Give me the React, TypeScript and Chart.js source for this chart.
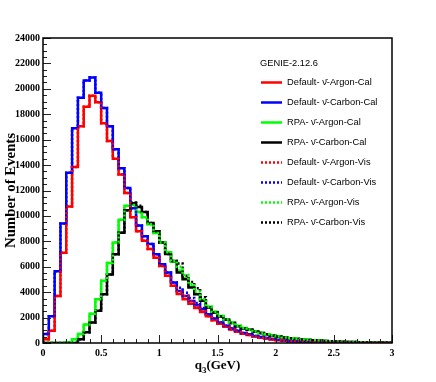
import React, { useEffect, useRef } from "react";
import { Chart, registerables } from "chart.js";

Chart.register(...registerables);

// Histogram: 60 bins of 0.05 GeV from 0 to 3 GeV
const binWidth = 0.05;
const xMin = 0;
const xMax = 3;
const yMax = 24000;
const yStep = 2000;
const xStep = 0.5;
const legendHeader = "GENIE-2.12.6";

const defaultArgonCal = [
  300, 970, 3700, 7100, 10750, 13850, 17050, 18600, 19450, 18950,
  17300, 15900, 14500, 13250, 11800, 9900, 8800, 8050, 7400, 6700,
  6050, 5300, 4500, 3850, 3450, 3080, 2750, 2430, 2100, 1800,
  1520, 1270, 1060, 880, 730, 620, 510, 420, 345, 280,
  225, 180, 140, 110, 85, 66, 51, 40, 31, 24,
  18, 14, 11, 8, 6, 5, 4, 3, 2, 2,
];

const defaultCarbonCal = [
  700, 2100, 5650, 9400, 13400, 16900, 19300, 20650, 20900, 19700,
  18500, 17050, 15250, 13750, 12200, 10600, 9250, 8400, 7800, 6980,
  6200, 5540, 4760, 4100, 3700, 3300, 2980, 2660, 2270, 1930,
  1620, 1360, 1150, 960, 790, 680, 560, 470, 390, 320,
  260, 205, 160, 125, 95, 75, 58, 45, 35, 27,
  21, 16, 12, 9, 7, 5, 4, 3, 2, 2,
];

const rpaArgonCal = [
  0, 0, 0, 0, 50, 300, 700, 1450, 2300, 3450,
  4900, 6300, 7900, 9700, 10800, 10850, 10300, 9900, 9350, 8650,
  7900, 7150, 6400, 5700, 5100, 4450, 3850, 3350, 2850, 2450,
  2120, 1850, 1600, 1360, 1180, 1050, 900, 790, 690, 590,
  510, 440, 380, 325, 285, 250, 218, 188, 160, 138,
  118, 100, 86, 73, 62, 52, 44, 37, 31, 26,
];

const rpaCarbonCal = [
  0, 0, 0, 0, 0, 0, 300, 840, 1620, 2530,
  3840, 5400, 6980, 8680, 10450, 11000, 10700, 10300, 9450, 8800,
  7900, 7000, 6450, 5540, 5020, 4370, 3840, 3320, 2800, 2400,
  2090, 1830, 1570, 1310, 1150, 1050, 890, 780, 680, 575,
  500, 430, 370, 315, 280, 245, 215, 185, 158, 135,
  115, 98, 84, 71, 60, 50, 42, 35, 30, 25,
];

const defaultArgonVis = [
  300, 970, 3700, 7100, 10750, 13850, 17050, 18600, 19450, 18950,
  17300, 15900, 14500, 13250, 11800, 9900, 8800, 8050, 7400, 6700,
  6050, 5300, 4500, 4050, 3700, 3300, 2900, 2500, 2100, 1800,
  1520, 1270, 1060, 880, 730, 620, 510, 420, 345, 280,
  225, 180, 140, 110, 85, 66, 51, 40, 31, 24,
  18, 14, 11, 8, 6, 5, 4, 3, 2, 2,
];

const defaultCarbonVis = [
  700, 2100, 5650, 9400, 13400, 16900, 19300, 20650, 20900, 19700,
  18500, 17050, 15250, 13750, 12200, 10600, 9250, 8400, 7800, 6980,
  6200, 5540, 4760, 4350, 3950, 3550, 3150, 2750, 2270, 1930,
  1620, 1360, 1150, 960, 790, 680, 560, 470, 390, 320,
  260, 205, 160, 125, 95, 75, 58, 45, 35, 27,
  21, 16, 12, 9, 7, 5, 4, 3, 2, 2,
];

const rpaArgonVis = [
  0, 0, 0, 0, 50, 300, 700, 1450, 2300, 3450,
  4900, 6300, 7900, 9700, 10800, 10850, 10300, 9900, 9350, 8650,
  7900, 7150, 6450, 6000, 5350, 4650, 4050, 3450, 2850, 2450,
  2120, 1850, 1600, 1360, 1180, 1050, 900, 790, 690, 590,
  510, 440, 380, 325, 285, 250, 218, 188, 160, 138,
  118, 100, 86, 73, 62, 52, 44, 37, 31, 26,
];

const rpaCarbonVis = [
  0, 0, 0, 0, 0, 0, 300, 840, 1620, 2530,
  3840, 5400, 6980, 8680, 10450, 11050, 10800, 10300, 9450, 8800,
  7900, 7000, 6450, 6250, 5300, 4800, 4300, 3600, 2800, 2400,
  2090, 1830, 1570, 1310, 1150, 1050, 890, 780, 680, 575,
  500, 430, 370, 315, 280, 245, 215, 185, 158, 135,
  115, 98, 84, 71, 60, 50, 42, 35, 30, 25,
];

const seriesLabels = [
  "Default- \u03BD\u0304-Argon-Cal",
  "Default- \u03BD\u0304-Carbon-Cal",
  "RPA- \u03BD\u0304-Argon-Cal",
  "RPA- \u03BD\u0304-Carbon-Cal",
  "Default- \u03BD\u0304-Argon-Vis",
  "Default- \u03BD\u0304-Carbon-Vis",
  "RPA- \u03BD\u0304-Argon-Vis",
  "RPA- \u03BD\u0304-Carbon-Vis",
];
const seriesValues = [
  defaultArgonCal, defaultCarbonCal, rpaArgonCal, rpaCarbonCal,
  defaultArgonVis, defaultCarbonVis, rpaArgonVis, rpaCarbonVis,
];
const seriesColors = ["#ff0000", "#0000ff", "#00ff00", "#000000", "#ff0000", "#0000ff", "#00ff00", "#000000"];
const seriesDotted = [false, false, false, false, true, true, true, true];

function toSteps(vals: number[]) {
  const pts = [{ x: 0, y: 0 }];
  vals.forEach((v, i) => pts.push({ x: Number((i * binWidth).toFixed(4)), y: v }));
  pts.push({ x: xMax, y: vals[vals.length - 1] });
  return pts;
}

const rootPlugin = {
  id: "rootStyle",
  afterDatasetsDraw(chart: any) {
    const { ctx, chartArea } = chart;
    const { left, right, top, bottom } = chartArea;
    const xs = chart.scales.x;
    const ys = chart.scales.y;
    ctx.save();
    ctx.strokeStyle = "#222";
    ctx.lineWidth = 1;
    ctx.beginPath();
    for (let v = 0; v <= yMax + 1; v += 500) {
      const y = Math.round(ys.getPixelForValue(v)) + 0.5;
      const len = v % yStep === 0 ? 8 : 4;
      ctx.moveTo(left, y);
      ctx.lineTo(left + len, y);
    }
    for (let k = 0; k <= 30; k++) {
      const v = k * 0.1;
      const x = Math.round(xs.getPixelForValue(v)) + 0.5;
      const len = k % 5 === 0 ? 8 : 4;
      ctx.moveTo(x, bottom);
      ctx.lineTo(x, bottom - len);
    }
    ctx.stroke();
    ctx.strokeStyle = "#000";
    ctx.lineWidth = 1.5;
    ctx.strokeRect(left, top, right - left, bottom - top);
    ctx.restore();
  },
  afterDraw(chart: any) {
    const { ctx, chartArea } = chart;
    const { left, right, top, bottom } = chartArea;
    ctx.save();
    ctx.fillStyle = "#000";
    ctx.save();
    ctx.translate(11.5, (top + bottom) / 2);
    ctx.rotate(-Math.PI / 2);
    ctx.font = "bold 14.8px 'Liberation Serif', 'Times New Roman', serif";
    ctx.textAlign = "center";
    ctx.textBaseline = "middle";
    ctx.fillText("Number of Events", 0, 0);
    ctx.restore();
    const big = "bold 13px 'Liberation Serif', 'Times New Roman', serif";
    const small = "bold 9px 'Liberation Serif', 'Times New Roman', serif";
    ctx.font = big;
    const wq = ctx.measureText("q").width;
    const wg = ctx.measureText("(GeV)").width;
    ctx.font = small;
    const w3 = ctx.measureText("3").width;
    const total = wq + w3 + wg;
    const x0 = (left + right) / 2 - total / 2;
    const base = 369;
    ctx.textAlign = "left";
    ctx.textBaseline = "alphabetic";
    ctx.font = big;
    ctx.fillText("q", x0, base);
    ctx.font = small;
    ctx.fillText("3", x0 + wq, base + 4);
    ctx.font = big;
    ctx.fillText("(GeV)", x0 + wq + w3, base);
    ctx.font = "9.3px 'Liberation Sans', Arial, sans-serif";
    ctx.textBaseline = "middle";
    ctx.fillText(legendHeader, 260, 63);
    seriesLabels.forEach((lab, i) => {
      const y = 82.5 + 20 * i;
      ctx.beginPath();
      ctx.strokeStyle = seriesColors[i];
      ctx.lineWidth = 2.5;
      ctx.setLineDash(seriesDotted[i] ? [2, 2] : []);
      ctx.moveTo(261, y);
      ctx.lineTo(282, y);
      ctx.stroke();
      ctx.setLineDash([]);
      ctx.fillText(lab, 287, y);
    });
    ctx.restore();
  },
};

export default function App() {
  const ref = useRef<HTMLCanvasElement | null>(null);
  useEffect(() => {
    if (!ref.current) return;
    const datasets = seriesValues.map((vals, i) => ({
      label: seriesLabels[i],
      data: toSteps(vals),
      borderColor: seriesColors[i],
      backgroundColor: seriesColors[i],
      borderWidth: 2.5,
      borderDash: seriesDotted[i] ? [2, 2] : [],
      stepped: "before" as const,
      pointRadius: 0,
      fill: false,
      order: seriesDotted[i] ? i - 4 : 10 - i,
    }));
    const chart = new Chart(ref.current, {
      type: "line",
      data: { datasets },
      options: {
        animation: false,
        responsive: false,
        devicePixelRatio: 1,
        layout: { padding: { top: 38, right: 44, left: 0, bottom: 0 } },
        plugins: { legend: { display: false }, tooltip: { enabled: false } },
        elements: { point: { radius: 0 } },
        scales: {
          x: {
            type: "linear",
            min: xMin,
            max: xMax,
            grid: { display: false, drawTicks: false },
            border: { display: false },
            ticks: {
              stepSize: xStep,
              padding: 4,
              color: "#000",
              font: { family: "'Liberation Serif', 'Times New Roman', serif", size: 10, weight: "bold" },
              maxRotation: 0,
              autoSkip: false,
              callback: (v: any) => String(Number(v)),
            },
            afterFit: (s: any) => { s.height = 39; },
          },
          y: {
            min: 0,
            max: yMax,
            grid: { display: false, drawTicks: false },
            border: { display: false },
            ticks: {
              stepSize: yStep,
              padding: 3,
              color: "#000",
              font: { family: "'Liberation Serif', 'Times New Roman', serif", size: 10, weight: "bold" },
              callback: (v: any) => String(v),
              autoSkip: false,
            },
            afterFit: (s: any) => { s.width = 43; },
          },
        },
      },
      plugins: [rootPlugin],
    } as any);
    return () => chart.destroy();
  }, []);
  return (
    <div style={{ position: "absolute", left: 0, top: 0, width: 436, height: 382, background: "#fff" }}>
      <canvas ref={ref} width={436} height={382} style={{ width: 436, height: 382 }} />
    </div>
  );
}
